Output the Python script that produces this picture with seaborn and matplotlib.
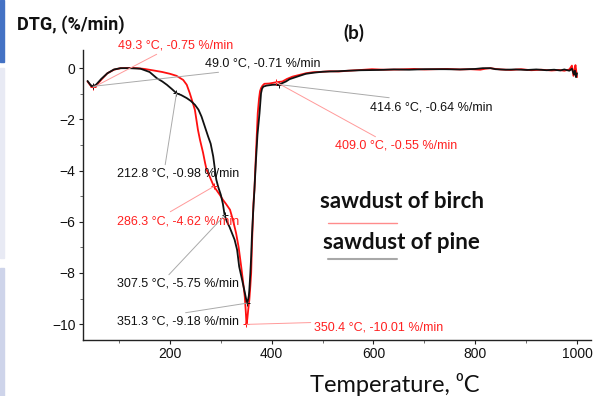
import matplotlib
matplotlib.use('Agg')
import matplotlib.pyplot as plt
import seaborn as sns
import pandas as pd
from matplotlib.patches import Rectangle
from matplotlib.lines import Line2D
from matplotlib.ticker import MultipleLocator

# ---------------- data ----------------
temp_birch = [38, 44, 49.3, 55, 65, 77, 90, 103, 120, 135, 150, 168, 185, 200, 213, 226, 233,
              239, 244, 249, 255, 259, 265, 269, 272, 278, 286.3, 291, 298, 304, 310, 318, 324,
              330, 335, 340, 344, 347, 349, 350.4, 352, 354, 356, 358, 359.6, 361, 362.7, 364,
              366, 368, 370, 372.5, 375, 377, 379, 382, 385.6, 395, 409, 421, 430, 441, 455,
              467, 480, 500, 515, 532, 550, 575, 597, 620, 650, 680, 700, 720, 745, 770, 790,
              810, 820, 830, 840, 850, 870, 890, 910, 930, 950, 965, 975, 985, 990, 993, 995,
              997, 1000]
dtg_birch = [-0.52, -0.68, -0.75, -0.68, -0.45, -0.2, -0.06, 0.0, 0.01, 0.0, -0.03, -0.09,
             -0.15, -0.22, -0.3, -0.46, -0.65, -0.98, -1.3, -1.63, -2.41, -2.8, -3.3, -3.7,
             -3.97, -4.23, -4.62, -4.75, -4.95, -5.14, -5.3, -5.53, -5.95, -6.45, -7.0, -7.75,
             -8.4, -8.92, -9.5, -10.01, -9.8, -9.4, -9.05, -8.5, -8.0, -7.0, -6.05, -5.3,
             -4.75, -3.8, -2.9, -1.76, -1.2, -0.9, -0.78, -0.68, -0.61, -0.6, -0.55, -0.52,
             -0.42, -0.33, -0.26, -0.2, -0.16, -0.14, -0.12, -0.13, -0.1, -0.07, -0.04,
             -0.06, -0.05, -0.03, -0.05, -0.04, -0.03, -0.05, -0.04, -0.06, -0.02, 0.0,
             -0.03, -0.05, -0.07, -0.04, -0.08, -0.06, -0.09, -0.07, -0.1, -0.05, 0.1, -0.3,
             -0.05, 0.12, -0.35]

temp_pine = [38, 44, 49.0, 55, 65, 77, 90, 103, 120, 142, 160, 174, 185, 194, 204, 212.8, 222,
             233, 241, 249, 256, 262, 268, 275, 280, 285, 288, 291, 295, 300, 304, 307.5, 312,
             317, 322, 327, 332, 336, 341, 346, 349, 351.3, 353, 355, 356, 358, 359.6, 361,
             363, 366, 369, 372, 376, 379, 381, 383.6, 390, 401.7, 414.6, 428, 435, 450, 467,
             485, 500, 512, 530, 550, 575, 610, 640, 670, 700, 740, 770, 800, 815, 830, 840,
             860, 880, 902, 920, 940, 955, 967, 975, 985, 990, 994, 996, 998, 1000]
dtg_pine = [-0.5, -0.66, -0.71, -0.64, -0.42, -0.2, -0.05, 0.0, 0.0, -0.02, -0.15, -0.39,
            -0.52, -0.65, -0.82, -0.98, -1.05, -1.17, -1.28, -1.43, -1.62, -1.89, -2.25,
            -2.67, -2.95, -3.45, -3.9, -4.35, -4.65, -4.95, -5.3, -5.75, -6.0, -6.2, -6.45,
            -6.7, -7.1, -7.75, -8.2, -8.66, -8.95, -9.18, -9.1, -8.9, -8.66, -8.0, -7.36,
            -6.6, -5.8, -4.75, -3.6, -2.6, -1.76, -0.98, -0.8, -0.72, -0.68, -0.65, -0.64,
            -0.52, -0.43, -0.33, -0.22, -0.17, -0.14, -0.13, -0.12, -0.1, -0.08, -0.07,
            -0.05, -0.06, -0.04, -0.04, -0.05, -0.03, 0.0, 0.0, -0.04, -0.06, -0.05, -0.07,
            -0.05, -0.08, -0.06, -0.09, -0.05, -0.1, -0.02, -0.25, -0.1, -0.35, -0.2]

ann_temp = [49.3, 49.0, 212.8, 286.3, 307.5, 351.3, 350.4, 414.6, 409.0]
ann_dtg = [-0.75, -0.71, -0.98, -4.62, -5.75, -9.18, -10.01, -0.64, -0.55]
ann_sample = ['birch', 'pine', 'pine', 'birch', 'pine', 'pine', 'birch', 'pine', 'birch']

sample_names = {'birch': 'sawdust of birch', 'pine': 'sawdust of pine'}
x_ticks = [200, 400, 600, 800, 1000]
y_ticks = [0, -2, -4, -6, -8, -10]

# ---------------- style ----------------
sns.set_theme(style='white')
plt.rcParams['font.family'] = ['Liberation Sans', 'DejaVu Sans']

W, H = 594, 396
fig = plt.figure(figsize=(W / 100, H / 100), dpi=100)
ax = fig.add_axes([82.6 / W, 1 - 340 / H, (591 - 82.6) / W, (340 - 50) / H])

df = pd.concat([
    pd.DataFrame({'T': temp_birch, 'DTG': dtg_birch, 'sample': 'birch'}),
    pd.DataFrame({'T': temp_pine, 'DTG': dtg_pine, 'sample': 'pine'}),
], ignore_index=True)
palette = {'birch': '#FF1010', 'pine': '#111111'}
sns.lineplot(data=df, x='T', y='DTG', hue='sample', palette=palette, estimator=None,
             sort=False, lw=1.3, legend=False, ax=ax)

ax.set_xlim(28.3, 1027.5)
ax.set_ylim(-10.62, 0.71)
ax.set_xticks(x_ticks)
ax.set_yticks(y_ticks)
ax.xaxis.set_minor_locator(MultipleLocator(100))
ax.yaxis.set_minor_locator(MultipleLocator(1))
ax.set_xlabel('')
ax.set_ylabel('')
sns.despine(ax=ax)
for s in ('left', 'bottom'):
    ax.spines[s].set_color('#222222')
    ax.spines[s].set_linewidth(1.0)
ax.tick_params(which='major', direction='out', length=3, width=0.8, color='#222222',
               labelsize=10, labelcolor='#111111', pad=2, left=True, bottom=True)
ax.tick_params(which='minor', direction='out', length=2, width=0.6, color='#555555',
               left=True, bottom=True)

# ---------------- annotations ----------------
text_px = [(118, 45), (205, 63), (117, 174), (117, 221), (117, 284), (117, 322),
           (314, 327), (370, 107), (335, 146)]
rel = [(0.39, 0), (0.37, 0), (0.39, 1), (0.39, 1), (0.4, 1), (0.39, 1), (0.4, 1),
       (0.38, 1), (0.38, 1)]
txt_col = {'birch': '#FF2020', 'pine': '#111111'}
lead_col = {'birch': '#FF9A9A', 'pine': '#AAAAAA'}
for t, v, s, (px, py), rp in zip(ann_temp, ann_dtg, ann_sample, text_px, rel):
    ax.annotate(f'{t:.1f} °C, {v:.2f} %/min', xy=(t, v), xytext=(px, H - py),
                textcoords='figure pixels', ha='left', va='center', fontsize=9,
                color=txt_col[s], annotation_clip=False,
                arrowprops=dict(arrowstyle='-', color=lead_col[s], lw=0.7,
                                relpos=rp, shrinkA=0, shrinkB=0))
    ax.plot([t], [v], marker='+', ms=4, mew=0.7, color=palette[s])

# ---------------- titles / legend ----------------
fig.text(17 / W, 1 - 25 / H, 'DTG, (%/min)', fontsize=13, fontweight='bold',
         family=['Roboto', 'DejaVu Sans'], ha='left', va='center', color='#111111')
fig.text(343 / W, 1 - 33 / H, '(b)', fontsize=13.5, fontweight='bold',
         family=['Lato', 'DejaVu Sans'], ha='left', va='center', color='#111111')
fig.text(395 / W, 1 - 384 / H, 'Temperature, \u2070C', fontsize=17,
         family=['Lato', 'DejaVu Sans'], ha='center', va='center', color='#111111')

fig.text(320 / W, 1 - 201 / H, sample_names['birch'], fontsize=16, fontweight='bold',
         family=['Lato', 'DejaVu Sans'], ha='left', va='center', color='#111111')
fig.text(323 / W, 1 - 242 / H, sample_names['pine'], fontsize=16, fontweight='bold',
         family=['Lato', 'DejaVu Sans'], ha='left', va='center', color='#111111')
fig.lines.append(Line2D([328 / W, 397 / W], [1 - 222.7 / H, 1 - 222.7 / H],
                        transform=fig.transFigure, color='#FF8C8C', lw=1.0))
fig.lines.append(Line2D([328 / W, 397 / W], [1 - 259 / H, 1 - 259 / H],
                        transform=fig.transFigure, color='#A8A8A8', lw=1.5))

# slide-edge decorations
fig.patches.append(Rectangle((0, 1 - 62 / H), 4 / W, 62 / H, transform=fig.transFigure,
                             color='#4472C4', zorder=0))
fig.patches.append(Rectangle((0, 1 - 258 / H), 4 / W, (258 - 68) / H,
                             transform=fig.transFigure, color='#E8EAF4', zorder=0))
fig.patches.append(Rectangle((0, 0), 4 / W, (396 - 268) / H, transform=fig.transFigure,
                             color='#CED4EA', zorder=0))

fig.savefig('out.png', dpi=100)
